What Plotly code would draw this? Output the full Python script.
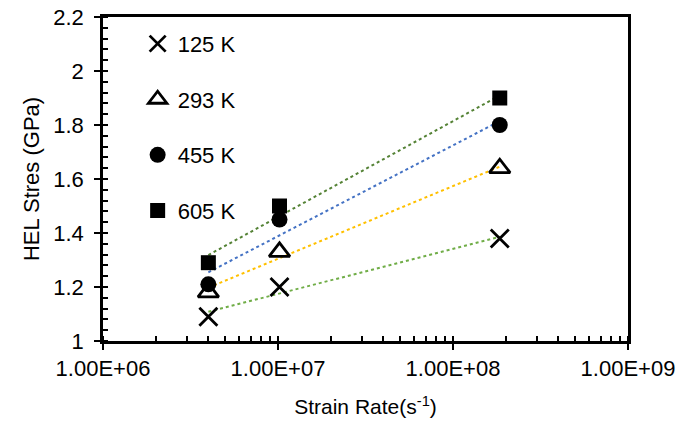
import numpy as np
import plotly.graph_objects as go

strain_rate = [4.0e6, 1.02e7, 1.85e8]
temps = ["125 K", "293 K", "455 K", "605 K"]
stress_125 = [1.09, 1.20, 1.38]
stress_293 = [1.18, 1.33, 1.64]
stress_455 = [1.21, 1.45, 1.80]
stress_605 = [1.29, 1.50, 1.90]
x_tick_vals = [1e6, 1e7, 1e8, 1e9]
x_tick_text = ["1.00E+06", "1.00E+07", "1.00E+08", "1.00E+09"]

series = [stress_125, stress_293, stress_455, stress_605]
trend_colors = ["#70AD47", "#FFC000", "#4472C4", "#548235"]
markers = [
    dict(symbol="x-thin", size=18, color="black", line=dict(color="black", width=2.8)),
    dict(symbol="triangle-up-open", size=18, color="black", line=dict(color="black", width=2.8)),
    dict(symbol="circle", size=16, color="black"),
    dict(symbol="square", size=15, color="black"),
]

fig = go.Figure()
lx = np.log10(strain_rate)
for name, ys, col in zip(temps, series, trend_colors):
    a, b = np.polyfit(lx, ys, 1)
    xs = np.array([strain_rate[0], strain_rate[-1]])
    fig.add_trace(go.Scatter(x=xs, y=a * np.log10(xs) + b, mode="lines",
                             line=dict(color=col, width=2, dash="dot"),
                             showlegend=False, hoverinfo="skip"))
for i, (name, ys, mk) in enumerate(zip(temps, series, markers)):
    fig.add_trace(go.Scatter(x=strain_rate, y=ys, mode="markers", name=name,
                             marker=mk, legendgroup=name))

font = "Liberation Sans, Arial, sans-serif"
fig.update_layout(
    width=679, height=423,
    margin=dict(l=103, r=51, t=17, b=82),
    paper_bgcolor="white", plot_bgcolor="white",
    font=dict(family=font, size=22, color="black"),
    showlegend=True,
    legend=dict(x=0.066, y=0.982, xanchor="left", yanchor="top",
                bgcolor="rgba(0,0,0,0)", font=dict(size=22),
                traceorder="grouped", tracegroupgap=24),
    xaxis=dict(type="log", range=[6, 9], tickvals=x_tick_vals, ticktext=x_tick_text,
               automargin=False,
               showline=True, mirror=True, linecolor="black", linewidth=2.5, showgrid=False,
               ticks="outside", ticklen=6, tickwidth=2, tickcolor="black",
               minor=dict(ticks="inside", ticklen=5, tickwidth=1.5, tickcolor="black",
                          dtick="D1", showgrid=False),
               title=dict(text="Strain Rate(s<sup>-1</sup>)", font=dict(size=21), standoff=20),
               tickfont=dict(size=22), zeroline=False),
    yaxis=dict(range=[1, 2.2], dtick=0.2, tickformat="~g", automargin=False,
               showline=True, mirror=True, linecolor="black", linewidth=2.5, showgrid=False,
               ticks="outside", ticklen=6, tickwidth=2, tickcolor="black", ticklabelstandoff=6,
               minor=dict(ticks="inside", ticklen=5, tickwidth=1.5, tickcolor="black", dtick=0.04, showgrid=False),
               title=dict(text="HEL Stres (GPa)", font=dict(size=22), standoff=8),
               tickfont=dict(size=22), zeroline=False),
)
fig.write_html("out.html")
